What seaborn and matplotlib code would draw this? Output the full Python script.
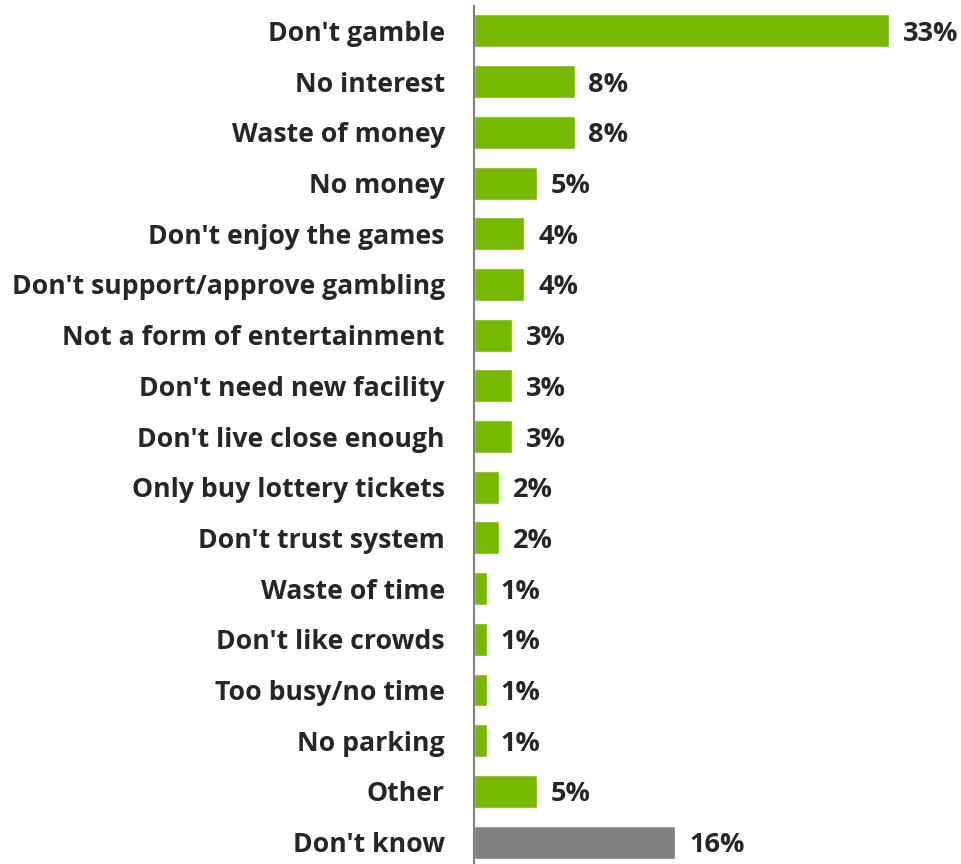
import pandas as pd
import matplotlib.pyplot as plt
import seaborn as sns

categories = ["Don't gamble", "No interest", "Waste of money", "No money",
              "Don't enjoy the games", "Don't support/approve gambling",
              "Not a form of entertainment", "Don't need new facility",
              "Don't live close enough", "Only buy lottery tickets",
              "Don't trust system", "Waste of time", "Don't like crowds",
              "Too busy/no time", "No parking", "Other", "Don't know"]
values = [33, 8, 8, 5, 4, 4, 3, 3, 3, 2, 2, 1, 1, 1, 1, 5, 16]
groups = ["reason"] * 16 + ["unknown"]

GREEN = '#76B900'
GRAY = '#808080'
TEXT = '#262626'

df = pd.DataFrame({'Reason': categories, 'Share': values, 'Group': groups})

sns.set_style('white')
plt.rcParams['font.family'] = ['Open Sans', 'DejaVu Sans']

fig = plt.figure(figsize=(9.61, 8.64), dpi=100)
ax = fig.add_axes([0.4932, -0.004, 0.5068, 0.9975])

sns.barplot(data=df, x='Share', y='Reason', hue='Group', orient='h',
            palette={'reason': GREEN, 'unknown': GRAY}, width=0.65,
            saturation=1, dodge=False, legend=False, ax=ax)

for i, v in enumerate(values):
    ax.text(v + 1.1, i, f'{v}%', va='center_baseline', ha='left',
            fontsize=19.5, fontweight='bold', color=TEXT)

ax.set_xlim(0, 38.7)
ax.set_ylim(len(categories) - 0.5, -0.5)
ax.set_xlabel('')
ax.set_ylabel('')
ax.set_xticks([])
ax.tick_params(axis='y', length=0, pad=21)
for lbl in ax.get_yticklabels():
    lbl.set_fontsize(19.2)
    lbl.set_fontweight('bold')
    lbl.set_color(TEXT)
    lbl.set_verticalalignment('center_baseline')

for side in ['top', 'right', 'bottom']:
    ax.spines[side].set_visible(False)
ax.spines['left'].set_color('#7f7f7f')
ax.spines['left'].set_linewidth(1.5)

fig.savefig('out.png', dpi=100)
